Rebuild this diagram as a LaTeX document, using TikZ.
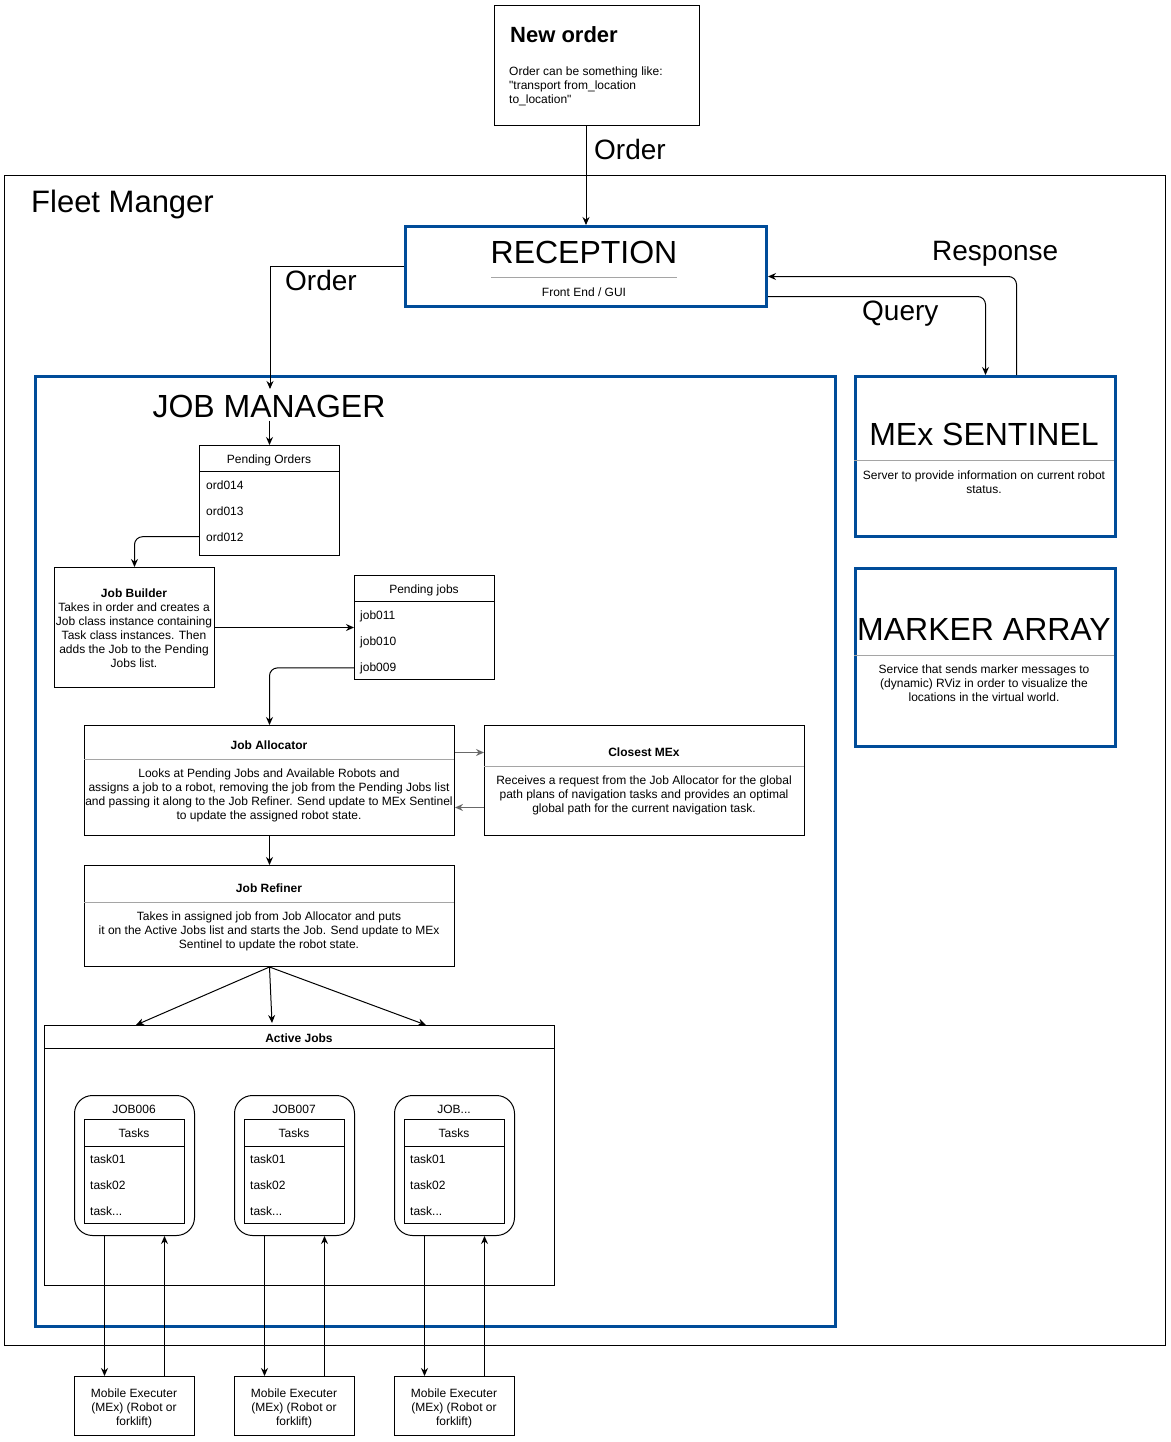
\documentclass[tikz,border=0pt]{standalone}
\usepackage{fontspec}
\setmainfont{Liberation Sans}[Ligatures=TeXOff]
\usetikzlibrary{arrows.meta}
\definecolor{fmblue}{RGB}{0,76,153}
\definecolor{sepgray}{RGB}{165,165,165}
\definecolor{arrgray}{RGB}{105,105,105}
\newcommand\jobdotsname{JOB...}
\tikzset{
  plainbox/.style={draw, line width=1pt, inner sep=0pt, anchor=north west},
  bluebox/.style={draw=fmblue, line width=3pt, inner sep=0pt, anchor=north west},
  txt/.style={inner sep=0pt, font=\fontsize{12}{14}\selectfont, align=center, anchor=north},
  small/.style={inner sep=0pt, font=\fontsize{12}{14}\selectfont},
  bigttl/.style={inner sep=0pt, font=\fontsize{32}{38}\selectfont, anchor=base},
  lbl/.style={inner sep=0pt, font=\fontsize{28}{32}\selectfont, anchor=base west},
  arr/.style={-{Stealth[length=8pt,width=7pt]}, line width=1pt},
  sepline/.style={draw=sepgray, line width=1pt},
}
\begin{document}
\begin{tikzpicture}[x=1pt,y=-1pt]
\useasboundingbox (0,0) rectangle (1170,1442);

% New order
\node[plainbox, minimum width=205pt, minimum height=120pt] (neworder) at (494,5) {};
\node[inner sep=0pt, anchor=base west, font=\fontsize{22}{26}\selectfont\bfseries] (notitle) at (510,43) {New order};
\node[txt, align=left, anchor=north west] (nobody) at (509,65) {\rule{0pt}{10pt}Order can be something like:\\"transport from\_location\\to\_location"};

% Fleet manager
\node[plainbox, minimum width=1161pt, minimum height=1170pt] (fleet) at (4,175) {};
\node[inner sep=0pt, anchor=base west, font=\fontsize{31}{36}\selectfont] (fleettitle) at (31,212) {Fleet Manger};

% Reception
\node[bluebox, minimum width=361pt, minimum height=80pt] (reception) at (404,225) {};
\node[bigttl] (rectitle) at (584,263) {RECEPTION};
\draw[sepline] (491,277) -- (677,277);
\node[small, anchor=base] (recsub) at (584,296) {Front End / GUI};

% Labels
\node[lbl] (ordlbl1) at (594,160) {Order};
\node[lbl] (ordlbl2) at (285,290) {Order};
\node[lbl] (querylbl) at (862,320) {Query};
\node[lbl] (resplbl) at (932,260) {Response};

% Job manager
\node[bluebox, minimum width=800pt, minimum height=950pt] (jobmgr) at (34,375) {};
\node[bigttl] (jmtitle) at (269,417) {JOB MANAGER};
\coordinate (jmin) at (270,389);

% Pending orders
\node[plainbox, minimum width=140pt, minimum height=110pt] (pendord) at (199,445) {};
\draw[line width=1pt] (199,471) -- (339,471);
\node[small, anchor=base] (pendordtitle) at (269,463) {Pending Orders};
\node[small, anchor=base west] (ord014) at (206,489) {ord014};
\node[small, anchor=base west] (ord013) at (206,515) {ord013};
\node[small, anchor=base west] (ord012) at (206,541) {ord012};

% Job builder
\node[plainbox, minimum width=160pt, minimum height=120pt] (jobbuilder) at (54,567) {};
\node[txt] (jbtext) at (134,587) {\rule{0pt}{10pt}\textbf{Job Builder}\\Takes in order and creates a\\Job class instance containing\\Task class instances. Then\\adds the Job to the Pending\\Jobs list.};

% Pending jobs
\node[plainbox, minimum width=140pt, minimum height=104pt] (pendjobs) at (354,575) {};
\draw[line width=1pt] (354,601) -- (494,601);
\node[small, anchor=base] (pendjobstitle) at (424,593) {Pending jobs};
\node[small, anchor=base west] (job011) at (360,619) {job011};
\node[small, anchor=base west] (job010) at (360,645) {job010};
\node[small, anchor=base west] (job009) at (360,671) {job009};

% Job allocator
\node[plainbox, minimum width=370pt, minimum height=110pt] (joballoc) at (84,725) {};
\node[small, anchor=base, font=\fontsize{12}{14}\selectfont\bfseries] (jatitle) at (269,749) {Job Allocator};
\draw[sepline] (84,759) -- (454,759);
\node[txt] (jatext) at (269,767) {\rule{0pt}{10pt}Looks at Pending Jobs and Available Robots and\\assigns a job to a robot, removing the job from the Pending Jobs list\\and passing it along to the Job Refiner. Send update to MEx Sentinel\\to update the assigned robot state.};

% Closest MEx
\node[plainbox, minimum width=320pt, minimum height=110pt] (closest) at (484,725) {};
\node[small, anchor=base, font=\fontsize{12}{14}\selectfont\bfseries] (cmtitle) at (644,756) {Closest MEx};
\draw[sepline] (484,766) -- (804,766);
\node[txt] (cmtext) at (644,774) {\rule{0pt}{10pt}Receives a request from the Job Allocator for the global\\path plans of navigation tasks and provides an optimal\\global path for the current navigation task.};

% Job refiner
\node[plainbox, minimum width=370pt, minimum height=101pt] (jobref) at (84,865) {};
\node[small, anchor=base, font=\fontsize{12}{14}\selectfont\bfseries] (jrtitle) at (269,892) {Job Refiner};
\draw[sepline] (84,902) -- (454,902);
\node[txt] (jrtext) at (269,910) {\rule{0pt}{10pt}Takes in assigned job from Job Allocator and puts\\it on the Active Jobs list and starts the Job. Send update to MEx\\Sentinel to update the robot state.};

% Active jobs
\node[plainbox, minimum width=510pt, minimum height=260pt] (active) at (44,1025) {};
\draw[line width=1pt] (44,1048) -- (554,1048);
\node[small, anchor=base, font=\fontsize{12}{14}\selectfont\bfseries] (activetitle) at (299,1042) {Active Jobs};
\coordinate (aj1) at (136,1025);
\coordinate (aj2) at (272,1023);
\coordinate (aj3) at (426,1025);

\foreach \i/\xo/\nm in {1/74/JOB006, 2/234/JOB007, 3/394/\jobdotsname}{
  \node[plainbox, rounded corners=18pt, minimum width=120pt, minimum height=140pt] (job\i) at (\xo,1095) {};
  \node[small, anchor=base] (jobname\i) at (\xo+60,1113) {\nm};
  \node[plainbox, minimum width=100pt, minimum height=104pt] (tasks\i) at (\xo+10,1119) {};
  \draw[line width=1pt] (\xo+10,1146) -- (\xo+110,1146);
  \node[small, anchor=base] (taskstitle\i) at (\xo+60,1137) {Tasks};
  \node[small, anchor=base west] (taskA\i) at (\xo+16,1163) {task01};
  \node[small, anchor=base west] (taskB\i) at (\xo+16,1189) {task02};
  \node[small, anchor=base west] (taskC\i) at (\xo+16,1215) {task...};
  \node[plainbox, minimum width=120pt, minimum height=59pt] (me\i) at (\xo,1376) {};
  \node[txt] (metext\i) at (\xo+60,1387) {\rule{0pt}{10pt}Mobile Executer\\(MEx) (Robot or\\forklift)};
  \draw[arr] ([xshift=-30pt]job\i.south) -- ([xshift=-30pt]me\i.north);
  \draw[arr] ([xshift=30pt]me\i.north) -- ([xshift=30pt]job\i.south);
}

% MEx sentinel
\node[bluebox, minimum width=260pt, minimum height=160pt] (sentinel) at (854,375) {};
\node[bigttl] (sentitle) at (984,445) {MEx SENTINEL};
\draw[sepline] (854,460) -- (1114,460);
\node[txt] (sentext) at (984,469) {\rule{0pt}{10pt}Server to provide information on current robot\\status.};

% Marker array
\node[bluebox, minimum width=260pt, minimum height=178pt] (marker) at (854,567) {};
\node[bigttl] (martitle) at (984,640) {MARKER ARRAY};
\draw[sepline] (854,655) -- (1114,655);
\node[txt] (martext) at (984,663) {\rule{0pt}{10pt}Service that sends marker messages to\\(dynamic) RViz in order to visualize the\\locations in the virtual world.};

% Connectors
\draw[arr] (reception.north |- neworder.south) -- (reception.north);
\draw[arr] (reception.west) -| (jmin);
\draw[arr, rounded corners=8pt] ([yshift=-30pt]reception.east) -| (sentinel.north);
\draw[arr, rounded corners=8pt] ([xshift=31pt]sentinel.north) |- ([yshift=-10pt]reception.east);
\draw[arr] ([yshift=-3pt]pendord.north |- jmtitle.south) -- (pendord.north);
\draw[arr, rounded corners=8pt] (pendord.west |- ord012) -| (jobbuilder.north);
\draw[arr] (jobbuilder.east) -- (pendjobs.west |- jobbuilder.east);
\draw[arr, rounded corners=8pt] (pendjobs.west |- job009) -| (joballoc.north);
\draw[arr, draw=arrgray, fill=arrgray, line width=1.6pt] ([yshift=28pt]joballoc.east) -- ([yshift=28pt]closest.west);
\draw[arr, draw=arrgray, fill=arrgray, line width=1.6pt] ([yshift=-27pt]closest.west) -- ([yshift=-27pt]joballoc.east);
\draw[arr] (joballoc.south) -- (jobref.north);
\draw[arr] (jobref.south) -- (aj1);
\draw[arr] (jobref.south) -- (aj2);
\draw[arr] (jobref.south) -- (aj3);
\end{tikzpicture}
\end{document}
